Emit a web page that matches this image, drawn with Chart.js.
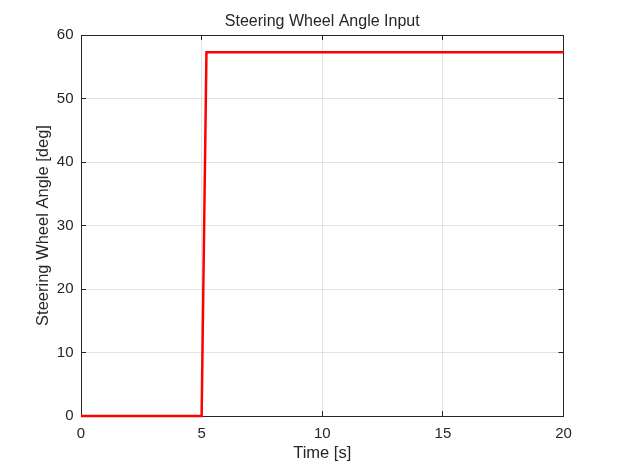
<!DOCTYPE html>
<html>
<head>
<meta charset="utf-8">
<script src="https://cdn.jsdelivr.net/npm/chart.js@4"></script>
<style>
  html, body { margin: 0; padding: 0; background: #fff; }
  #wrap { width: 623px; height: 468px; }
</style>
</head>
<body>
<div id="wrap"><canvas id="grafico"></canvas></div>
<script>
// Dados do sinal de entrada (degrau de ~1 rad)
const tempo = [0, 5, 5.2, 20];
const angulo = [0, 0, 57.3, 57.3];
const ticksX = [0, 5, 10, 15, 20];
const ticksY = [0, 10, 20, 30, 40, 50, 60];

const corEixo = '#262626';
const corGrade = 'rgba(38,38,38,0.13)';
const fonte = 'Liberation Sans, Arial, Helvetica, sans-serif';

const pontos = tempo.map((t, i) => ({ x: t, y: angulo[i] }));

function fixarTicks(lista) {
  return scale => { scale.ticks = lista.map(v => ({ value: v })); };
}

// Centraliza o título sobre a área do gráfico (como no MATLAB)
const tituloCentrado = {
  id: 'tituloCentrado',
  afterLayout(chart) {
    const t = chart.titleBlock;
    if (t) {
      t.left = chart.chartArea.left;
      t.right = chart.chartArea.right;
    }
  }
};

new Chart(document.getElementById('grafico'), {
  type: 'line',
  data: {
    datasets: [{
      label: 'Steering Wheel Angle',
      data: pontos,
      borderColor: '#ff0000',
      borderWidth: 2.5,
      pointRadius: 0,
      tension: 0,
      fill: false,
      clip: false
    }]
  },
  plugins: [tituloCentrado],
  options: {
    responsive: true,
    maintainAspectRatio: false,
    animation: false,
    layout: { padding: { left: 0, right: 59.5, top: 0, bottom: 0 } },
    plugins: {
      legend: { display: false },
      tooltip: { enabled: false },
      title: {
        display: true,
        text: 'Steering Wheel Angle Input',
        color: corEixo,
        font: { family: fonte, size: 16, weight: 'normal' },
        padding: { top: 12, bottom: 3.8 }
      }
    },
    scales: {
      x: {
        type: 'linear',
        position: 'bottom',
        min: 0, max: 20,
        afterBuildTicks: fixarTicks(ticksX),
        afterFit: s => { s.height = 52; },
        grid: { color: corGrade, tickColor: corEixo, tickLength: -5, lineWidth: 1 },
        border: { display: true, color: corEixo, width: 1 },
        ticks: { color: corEixo, padding: 13.5, maxRotation: 0, font: { family: fonte, size: 15 } },
        title: {
          display: true, text: 'Time [s]', color: corEixo,
          font: { family: fonte, size: 16.5 },
          padding: { top: 5, bottom: 5 }
        }
      },
      x2: {
        type: 'linear',
        position: 'top',
        min: 0, max: 20,
        afterBuildTicks: fixarTicks(ticksX),
        afterFit: s => { s.height = 0; },
        grid: { drawOnChartArea: false, tickColor: corEixo, tickLength: -5 },
        border: { display: true, color: corEixo, width: 1 },
        ticks: { display: false }
      },
      y: {
        type: 'linear',
        position: 'left',
        min: 0, max: 60,
        afterBuildTicks: fixarTicks(ticksY),
        afterFit: s => { s.width = 81; },
        grid: { color: corGrade, tickColor: corEixo, tickLength: -5, lineWidth: 1 },
        border: { display: true, color: corEixo, width: 1 },
        ticks: { color: corEixo, padding: 12.5, font: { family: fonte, size: 15 } },
        title: {
          display: true, text: 'Steering Wheel Angle [deg]', color: corEixo,
          font: { family: fonte, size: 16.5 },
          padding: { top: 34, bottom: 34 }
        }
      },
      y2: {
        type: 'linear',
        position: 'right',
        min: 0, max: 60,
        afterBuildTicks: fixarTicks(ticksY),
        afterFit: s => { s.width = 0; },
        grid: { drawOnChartArea: false, tickColor: corEixo, tickLength: -5 },
        border: { display: true, color: corEixo, width: 1 },
        ticks: { display: false }
      }
    }
  }
});
</script>
</body>
</html>
